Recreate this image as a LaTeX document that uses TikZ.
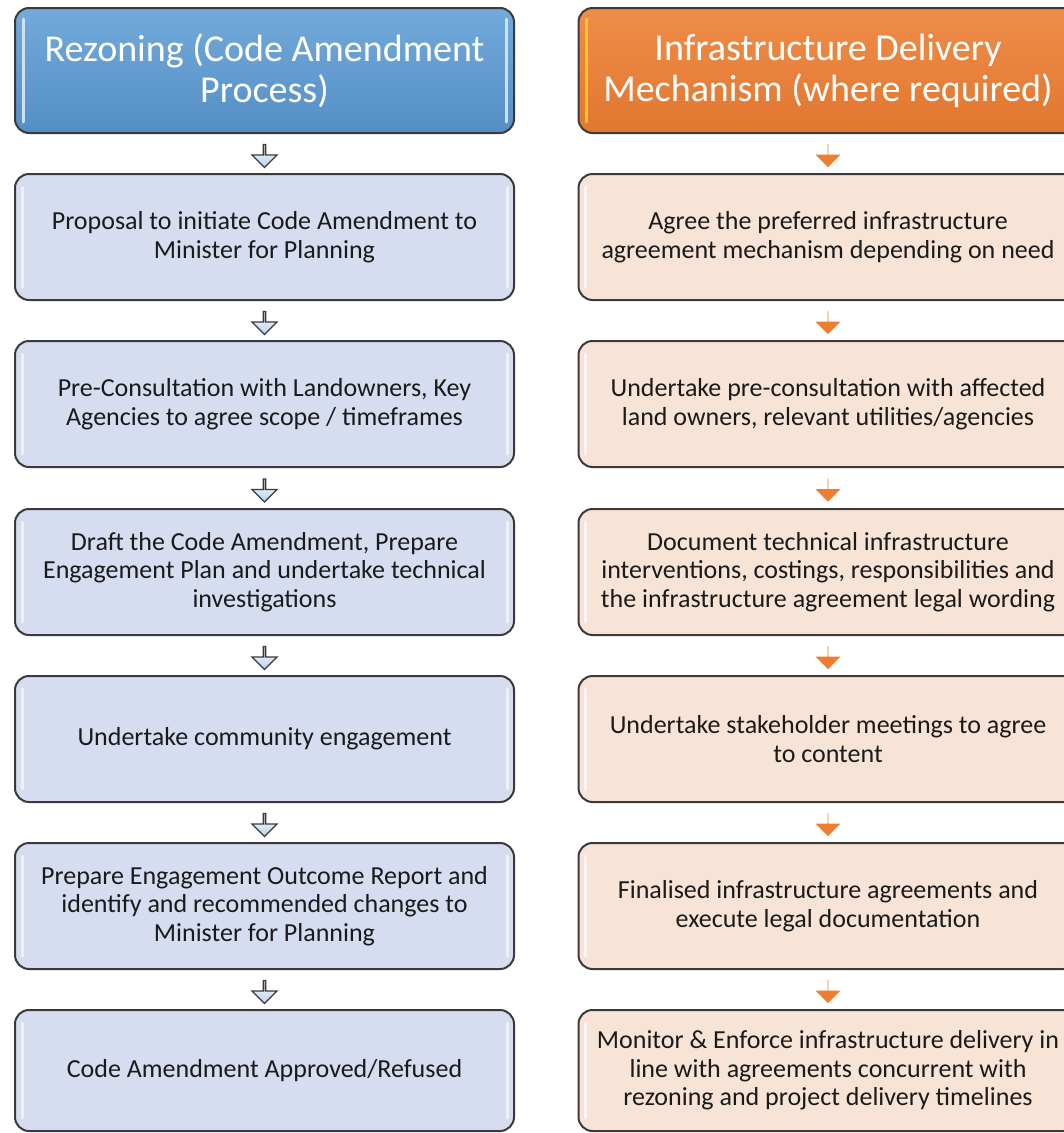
\documentclass[tikz,border=0pt]{standalone}
\usepackage{fontspec}
\setmainfont{Carlito}
\usetikzlibrary{shapes.arrows}
\definecolor{edge}{HTML}{3A3A3A}
\definecolor{ink}{HTML}{1A1A1A}
\definecolor{hdblue}{HTML}{5B9BD5}
\definecolor{hdorange}{HTML}{ED7D31}
\definecolor{lfill}{HTML}{D7DDF0}
\definecolor{rfill}{HTML}{F8E4D6}
\tikzset{
  box/.style={draw=edge, line width=2pt, rounded corners=14pt,
    minimum width=499pt, minimum height=126pt, align=center,
    font=\fontsize{26}{28.5}\selectfont, text=ink},
  lbox/.style={box, fill=lfill},
  rbox/.style={box, fill=rfill},
  lhead/.style={box, minimum height=125pt, top color=hdblue!85!white,
    bottom color=hdblue!92!black, text=white,
    font=\fontsize{38}{41}\selectfont},
  rhead/.style={lhead, top color=hdorange!88!white,
    bottom color=hdorange!95!black},
  downL/.style={shape=single arrow, shape border rotate=270, draw=edge,
    line width=1.3pt, top color=white, bottom color=hdblue!45!white,
    inner sep=0pt, minimum width=25pt, minimum height=23pt,
    single arrow head extend=6.5pt},
  downR/.style={shape=single arrow, shape border rotate=270,
    fill=hdorange, inner sep=0pt, minimum width=25pt, minimum height=23pt,
    single arrow head extend=6.5pt},
  shine/.style={line width=3pt, line cap=round, white, opacity=0.6}
}
\begin{document}
\begin{tikzpicture}[x=1pt, y=-1pt]
  \path[use as bounding box, clip] (0,0) rectangle (1064,1133);
  % rezoning column
  \node[lhead] (rz) at (264.5,70.5) {Rezoning (Code Amendment\\Process)};
  \node[lbox] (rz1) at (264.5,237) {Proposal to initiate Code Amendment to\\Minister for Planning};
  \node[lbox] (rz2) at (264.5,404) {Pre-Consultation with Landowners, Key\\Agencies to agree scope / timeframes};
  \node[lbox] (rz3) at (264.5,572) {Draft the Code Amendment, Prepare\\Engagement Plan and undertake technical\\investigations};
  \node[lbox] (rz4) at (264.5,739) {Undertake community engagement};
  \node[lbox] (rz5) at (264.5,906) {Prepare Engagement Outcome Report and\\identify and recommended changes to\\Minister for Planning};
  \node[lbox, minimum height=121pt] (rz6) at (264.5,1070.5) {Code Amendment Approved/Refused};
  % infrastructure column
  \node[rhead] (in) at (828,70.5) {Infrastructure Delivery\\Mechanism (where required)};
  \node[rbox] (in1) at (828,237) {Agree the preferred infrastructure\\agreement mechanism depending on need};
  \node[rbox] (in2) at (828,404) {Undertake pre-consultation with affected\\land owners, relevant utilities/agencies};
  \node[rbox] (in3) at (828,572) {Document technical infrastructure\\interventions, costings, responsibilities and\\the infrastructure agreement legal wording};
  \node[rbox] (in4) at (828,739) {Undertake stakeholder meetings to agree\\to content};
  \node[rbox] (in5) at (828,906) {Finalised infrastructure agreements and\\execute legal documentation};
  \node[rbox, minimum height=121pt] (in6) at (828,1070.5) {Monitor \& Enforce infrastructure delivery in\\line with agreements concurrent with\\rezoning and project delivery timelines};
  % highlights
  \draw[shine, hdblue!30!white, opacity=1] ([shift={(9pt,-12pt)}]rz.north west) -- ([shift={(9pt,12pt)}]rz.south west);
  \draw[shine, hdblue!30!white, opacity=1] ([shift={(-9pt,-12pt)}]rz.north east) -- ([shift={(-9pt,12pt)}]rz.south east);
  \draw[shine, yellow!60!hdorange, opacity=1] ([shift={(9pt,-12pt)}]in.north west) -- ([shift={(9pt,12pt)}]in.south west);
  \foreach \n in {rz1,rz2,rz3,rz4,rz5,rz6,in1,in2,in3,in4,in5,in6} {
    \draw[shine] ([shift={(8pt,-14pt)}]\n.north west) -- ([shift={(8pt,14pt)}]\n.south west);
    \draw[shine] ([shift={(-8pt,-14pt)}]\n.north east) -- ([shift={(-8pt,14pt)}]\n.south east);
  }
  % arrows
  \path (rz.south) -- (rz1.north) node[pos=0.55, downL] {};
  \path (rz1.south) -- (rz2.north) node[pos=0.55, downL] {};
  \path (rz2.south) -- (rz3.north) node[pos=0.55, downL] {};
  \path (rz3.south) -- (rz4.north) node[pos=0.55, downL] {};
  \path (rz4.south) -- (rz5.north) node[pos=0.55, downL] {};
  \path (rz5.south) -- (rz6.north) node[pos=0.55, downL] {};
  \path (in.south) -- (in1.north) node[pos=0.55, downR] {};
  \path (in1.south) -- (in2.north) node[pos=0.55, downR] {};
  \path (in2.south) -- (in3.north) node[pos=0.55, downR] {};
  \path (in3.south) -- (in4.north) node[pos=0.55, downR] {};
  \path (in4.south) -- (in5.north) node[pos=0.55, downR] {};
  \path (in5.south) -- (in6.north) node[pos=0.55, downR] {};
\end{tikzpicture}
\end{document}
